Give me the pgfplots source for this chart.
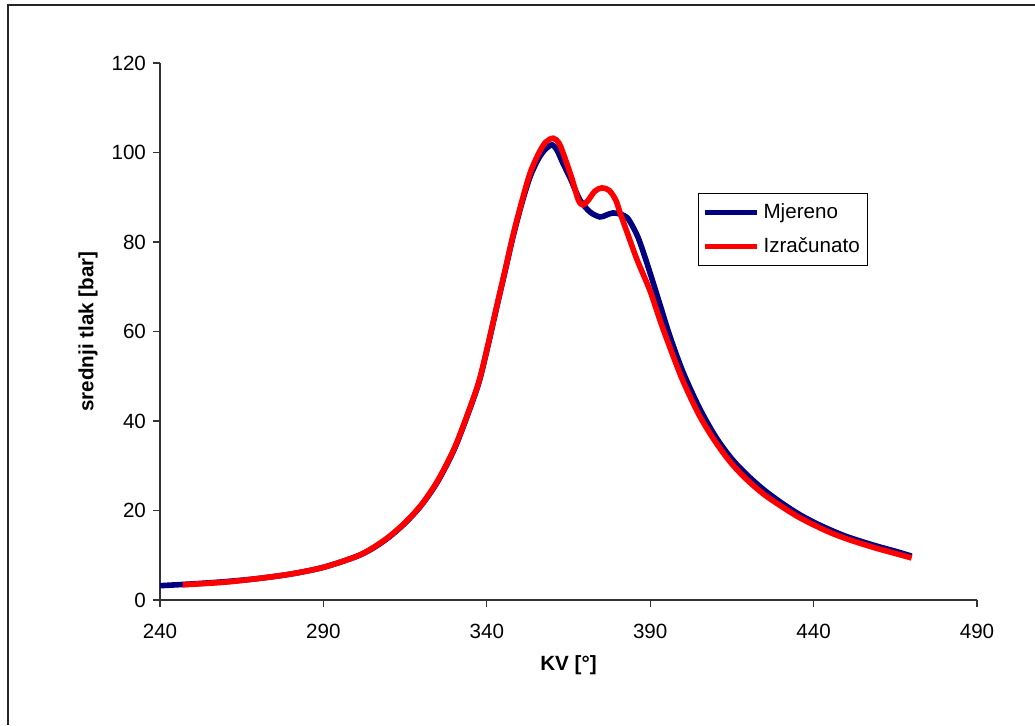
\documentclass[border=0pt]{standalone}
\usepackage{pgfplots}
\pgfplotsset{compat=1.18}
\usepackage{fontspec}
\setmainfont{Liberation Sans}
\definecolor{mnavy}{RGB}{0,0,128}
\begin{document}
\begin{tikzpicture}
\path[use as bounding box] (-80pt,-62.5pt) rectangle (437.5pt,300pt);
\draw[line width=0.9pt, black!85] (-76pt,-62.5pt) -- (-76pt,297.5pt) -- (437.5pt,297.5pt);
\begin{axis}[
  at={(0,0)}, anchor=south west,
  scale only axis, width=408.5pt, height=268.5pt,
  xmin=240, xmax=490, ymin=0, ymax=120,
  xtick={240,290,...,490}, ytick={0,20,...,120},
  axis lines=left, axis line style={-, black!80, line width=0.6pt},
  tick align=outside, tick style={black!80, line width=0.6pt},
  major tick length=3.5pt,
  /pgf/number format/assume math mode=true,
  tick label style={font=\fontsize{10.3}{12}\selectfont},
  xticklabel style={yshift=-5pt},
  xlabel={\textbf{KV [°]}}, ylabel={\textbf{srednji tlak [bar]}},
  label style={font=\fontsize{10.3}{12}\selectfont},
  xlabel style={at={(axis description cs:0.5,-0.121)}, anchor=center},
  ylabel style={at={(axis description cs:-0.088,0.5)}, anchor=center},
  legend style={at={(0.6585,0.758)}, anchor=north west, draw=black, line width=0.6pt,
    font=\fontsize{10.3}{12}\selectfont, inner xsep=2pt, inner ysep=3pt, row sep=4pt},
  legend cell align=left,
  legend image code/.code={\draw[#1, line width=2.5pt] (0pt,0pt) -- (26pt,0pt);},
]
\addplot[mnavy, line width=2.8pt, smooth, tension=0.5] coordinates {
(240,3.2) (250,3.6) (260,4.1) (270,4.8) (280,5.8) (290,7.3) (300,9.7) (305,11.5)
(310,14) (315,17.2) (320,21.2) (325,26.5) (330,33.6) (334,41.1) (337.5,48.4)
(340,55.7) (343,65.3) (345.6,73.5) (348.1,81.4) (350.7,88.6) (353.2,94.5)
(355.8,98.6) (358,100.8) (360,101.7) (361.5,100.5)
(363.3,97.6) (365.5,94.3) (368.5,89.4) (371.6,86.7) (374.6,85.6) (376.5,86)
(378.6,86.5) (381,86.2) (383,85.4) (384.7,83.4) (386.3,81) (388,77.5) (390,73)
(393,66) (396,59) (400,51) (405,43) (410,36.5) (415,31.5) (420,27.7) (425,24.5)
(430,21.8) (435,19.4) (440,17.4) (445,15.7) (450,14.2) (455,13) (460,11.9)
(465,10.9) (470,9.8)
};
\addlegendentry{Mjereno}
\addplot[red, line width=2.8pt, smooth, tension=0.5] coordinates {
(247,3.4) (260,4.0) (270,4.8) (280,5.8) (290,7.3) (300,9.7) (305,11.6) (310,14.1)
(315,17.3) (320,21.3) (325,26.7) (330,33.8) (334,41.3) (337.5,48.6) (340,55.9)
(343,65.5) (345.6,73.7) (348.1,81.7) (350.7,89) (353.2,95.3) (355.8,99.7)
(358,102.3) (360.3,103.2) (362,102.2) (363.3,100)
(366,94.3) (368,89.4) (369.4,88.3) (371,89.3) (373,91.3) (375.2,92.1) (377.5,91.5)
(379.5,89.3) (380.8,86.5) (383.8,80.4) (386,76) (390,69) (393,62.5) (396,56.5)
(400,49) (405,41.3) (410,35.3) (415,30.4) (420,26.6) (425,23.5) (430,21) (435,18.7)
(440,16.8) (445,15.1) (450,13.7) (455,12.5) (460,11.4) (465,10.4) (470,9.4)
};
\addlegendentry{Izračunato}
\end{axis}
\end{tikzpicture}
\end{document}
